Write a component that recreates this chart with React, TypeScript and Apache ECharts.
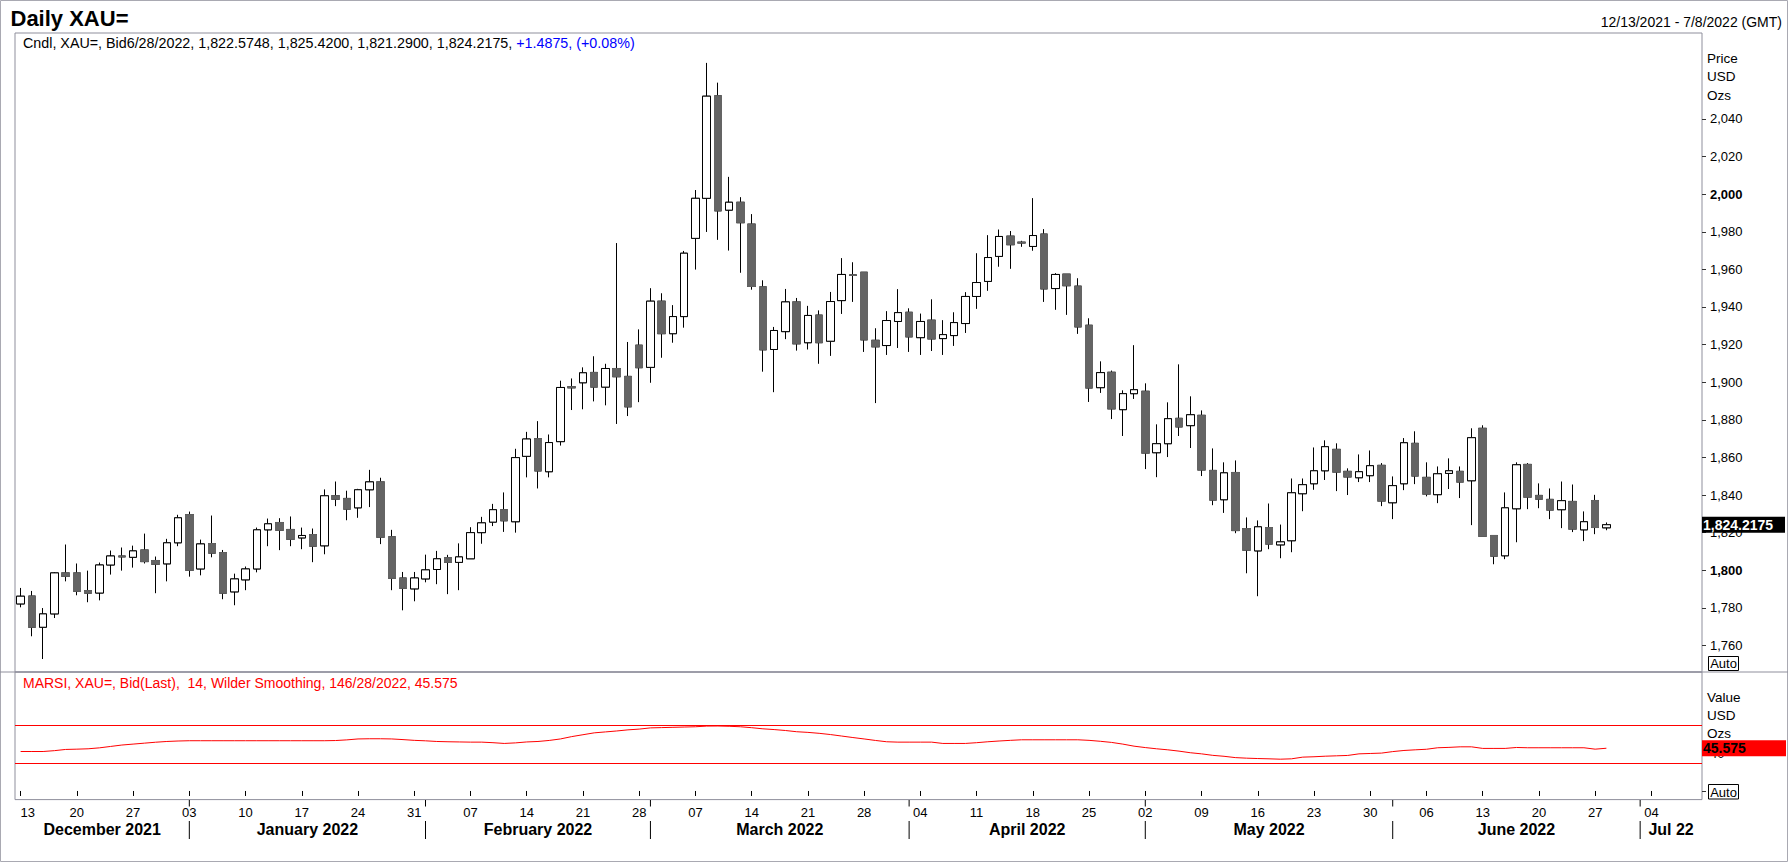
import React, { useEffect, useRef } from "react";
import * as echarts from "echarts";

// ---------- categories (weekdays, Dec 13 2021 .. Jul 8 2022) ----------
const DAYS_DEC_2021 = [13, 14, 15, 16, 17, 20, 21, 22, 23, 24, 27, 28, 29, 30, 31];
const DAYS_JAN_2022 = [3, 4, 5, 6, 7, 10, 11, 12, 13, 14, 17, 18, 19, 20, 21, 24, 25, 26, 27, 28, 31];
const DAYS_FEB_2022 = [1, 2, 3, 4, 7, 8, 9, 10, 11, 14, 15, 16, 17, 18, 21, 22, 23, 24, 25, 28];
const DAYS_MAR_2022 = [1, 2, 3, 4, 7, 8, 9, 10, 11, 14, 15, 16, 17, 18, 21, 22, 23, 24, 25, 28, 29, 30, 31];
const DAYS_APR_2022 = [1, 4, 5, 6, 7, 8, 11, 12, 13, 14, 15, 18, 19, 20, 21, 22, 25, 26, 27, 28, 29];
const DAYS_MAY_2022 = [2, 3, 4, 5, 6, 9, 10, 11, 12, 13, 16, 17, 18, 19, 20, 23, 24, 25, 26, 27, 30, 31];
const DAYS_JUN_2022 = [1, 2, 3, 6, 7, 8, 9, 10, 13, 14, 15, 16, 17, 20, 21, 22, 23, 24, 27, 28, 29, 30];
const DAYS_JUL_2022 = [1, 4, 5, 6, 7, 8];

const MONTH_LABELS = ["December 2021", "January 2022", "February 2022", "March 2022", "April 2022", "May 2022", "June 2022", "Jul 22"];
const MONTH_YEARS = [2021, 2022, 2022, 2022, 2022, 2022, 2022, 2022];
const MONTH_NUMS = [12, 1, 2, 3, 4, 5, 6, 7];
const MONTH_DAYS = [DAYS_DEC_2021, DAYS_JAN_2022, DAYS_FEB_2022, DAYS_MAR_2022, DAYS_APR_2022, DAYS_MAY_2022, DAYS_JUN_2022, DAYS_JUL_2022];

// ---------- daily XAU= bid candles ----------
const OPEN = [
  1782.1, 1786.3, 1769.7, 1776.8, 1798.6, 1798.6, 1789.2, 1787.9, 1802.8, 1807.6,
  1806.9, 1810.8, 1805.2, 1803.4, 1814.6, 1829.6, 1800.7, 1814.2, 1809.4, 1788.5,
  1794.9, 1800.7, 1821.5, 1825.4, 1821.7, 1817.2, 1819.0, 1813.0, 1839.6, 1838.2,
  1833.2, 1842.8, 1847.0, 1817.8, 1795.9, 1790.1, 1795.4, 1800.4, 1806.7, 1804.2,
  1806.1, 1820.0, 1825.6, 1832.2, 1825.8, 1860.6, 1870.0, 1852.4, 1868.4, 1897.6,
  1899.7, 1905.2, 1897.4, 1907.3, 1903.1, 1919.7, 1907.9, 1943.1, 1925.8, 1934.9,
  1976.5, 1997.8, 2052.3, 1991.5, 1995.7, 1984.1, 1950.7, 1917.4, 1926.9, 1942.7,
  1921.0, 1935.7, 1921.8, 1943.4, 1957.1, 1958.5, 1922.3, 1919.5, 1932.3, 1937.2,
  1923.7, 1933.0, 1923.2, 1924.8, 1931.2, 1945.6, 1953.6, 1966.9, 1977.7, 1974.5,
  1972.2, 1978.8, 1949.8, 1957.5, 1951.1, 1930.3, 1897.1, 1905.3, 1885.4, 1893.9,
  1895.2, 1862.5, 1867.3, 1880.8, 1876.9, 1882.4, 1853.1, 1837.5, 1852.0, 1822.2,
  1810.3, 1822.7, 1813.5, 1815.7, 1840.7, 1846.0, 1852.9, 1864.3, 1852.6, 1849.2,
  1850.3, 1855.8, 1835.9, 1846.0, 1867.5, 1849.4, 1840.2, 1851.5, 1852.6, 1847.6,
  1875.5, 1818.5, 1807.7, 1832.7, 1856.3, 1839.8, 1837.7, 1832.2, 1836.6, 1821.5,
  1837.1, 1822.5748,
];
const HIGH = [
  1790.6, 1789.0, 1779.9, 1799.0, 1813.7, 1803.6, 1799.8, 1804.1, 1810.5, 1812.1,
  1813.1, 1819.5, 1807.3, 1816.7, 1829.5, 1831.2, 1816.3, 1829.1, 1810.8, 1798.2,
  1802.0, 1822.7, 1827.5, 1827.7, 1828.6, 1822.7, 1822.2, 1843.0, 1847.2, 1842.3,
  1843.3, 1853.4, 1849.2, 1821.5, 1799.1, 1799.1, 1808.3, 1810.3, 1808.2, 1814.3,
  1822.9, 1828.4, 1835.3, 1841.4, 1864.6, 1873.6, 1879.3, 1872.2, 1900.8, 1902.0,
  1907.9, 1913.8, 1909.8, 1974.0, 1921.4, 1928.1, 1950.0, 1947.3, 1941.0, 1969.8,
  2002.2, 2069.8, 2059.3, 2009.2, 1998.4, 1989.4, 1954.2, 1929.4, 1949.6, 1944.8,
  1940.6, 1938.2, 1948.0, 1966.0, 1963.8, 1958.5, 1928.7, 1937.8, 1949.5, 1939.3,
  1936.5, 1944.1, 1933.0, 1937.2, 1947.9, 1968.6, 1978.2, 1981.2, 1980.4, 1975.2,
  1997.9, 1981.4, 1958.0, 1957.5, 1955.3, 1934.0, 1911.1, 1906.2, 1895.7, 1919.7,
  1899.4, 1877.6, 1889.3, 1909.5, 1892.5, 1885.0, 1864.8, 1857.4, 1858.4, 1828.1,
  1826.5, 1835.5, 1824.3, 1848.8, 1848.8, 1865.3, 1869.1, 1867.5, 1854.2, 1861.6,
  1863.7, 1857.0, 1849.9, 1870.3, 1873.9, 1857.4, 1855.2, 1859.5, 1855.2, 1875.5,
  1877.1, 1818.5, 1841.4, 1857.4, 1857.0, 1846.2, 1843.5, 1847.2, 1845.6, 1831.3,
  1840.1, 1825.42,
];
const LOW = [
  1780.3, 1764.9, 1752.8, 1774.6, 1794.1, 1786.7, 1783.0, 1784.0, 1797.7, 1799.8,
  1801.4, 1803.6, 1787.8, 1794.1, 1812.8, 1796.6, 1797.3, 1806.9, 1784.6, 1781.4,
  1789.4, 1798.9, 1812.8, 1810.7, 1812.8, 1811.2, 1804.3, 1808.5, 1834.1, 1826.6,
  1827.9, 1833.6, 1813.9, 1789.4, 1778.7, 1783.5, 1793.6, 1792.6, 1787.3, 1789.4,
  1806.1, 1814.1, 1823.5, 1820.4, 1820.0, 1849.4, 1843.5, 1849.4, 1866.3, 1885.2,
  1885.6, 1889.8, 1887.7, 1877.8, 1882.0, 1889.4, 1899.7, 1913.0, 1921.0, 1929.0,
  1959.9, 1979.9, 1975.7, 1970.0, 1958.2, 1949.2, 1905.6, 1894.7, 1922.9, 1916.8,
  1917.4, 1909.8, 1914.0, 1936.3, 1942.7, 1916.1, 1888.9, 1914.5, 1918.2, 1916.1,
  1914.5, 1916.6, 1914.5, 1919.3, 1926.2, 1939.0, 1948.6, 1961.4, 1960.3, 1972.0,
  1969.9, 1942.7, 1938.5, 1935.8, 1925.7, 1889.5, 1894.3, 1880.4, 1871.4, 1891.1,
  1853.8, 1849.5, 1860.2, 1871.4, 1865.0, 1850.1, 1834.6, 1830.5, 1819.7, 1798.4,
  1786.2, 1811.2, 1806.4, 1809.6, 1831.4, 1842.8, 1848.0, 1842.1, 1840.0, 1846.9,
  1846.9, 1834.1, 1827.2, 1842.6, 1845.8, 1839.3, 1835.7, 1843.2, 1838.4, 1824.0,
  1818.1, 1803.2, 1805.9, 1814.9, 1832.5, 1833.0, 1827.2, 1822.4, 1820.3, 1815.5,
  1819.2, 1821.29,
];
const CLOSE = [
  1786.2, 1769.7, 1776.8, 1798.6, 1796.8, 1788.8, 1787.8, 1802.8, 1807.6, 1807.1,
  1810.3, 1804.6, 1803.2, 1814.6, 1827.9, 1800.0, 1814.0, 1809.1, 1787.8, 1795.4,
  1800.7, 1821.5, 1824.7, 1821.3, 1816.5, 1818.5, 1812.8, 1839.6, 1837.8, 1832.5,
  1842.8, 1847.0, 1817.6, 1795.7, 1790.4, 1795.9, 1800.2, 1806.1, 1804.2, 1807.1,
  1820.0, 1825.2, 1832.2, 1826.3, 1859.9, 1869.8, 1852.8, 1867.9, 1897.2, 1897.0,
  1905.0, 1897.4, 1907.3, 1902.9, 1886.9, 1907.7, 1943.1, 1925.8, 1934.9, 1968.6,
  1997.8, 2052.1, 1991.1, 1995.7, 1984.8, 1950.9, 1917.2, 1927.5, 1942.7, 1920.4,
  1935.5, 1921.0, 1942.9, 1957.3, 1956.8, 1922.5, 1918.8, 1932.8, 1937.0, 1924.1,
  1932.3, 1923.0, 1925.3, 1931.7, 1945.6, 1953.0, 1966.3, 1977.5, 1973.1, 1974.0,
  1978.0, 1949.6, 1957.3, 1951.3, 1929.4, 1896.9, 1905.1, 1885.8, 1893.9, 1896.0,
  1862.3, 1867.3, 1880.6, 1876.2, 1882.7, 1853.3, 1837.3, 1851.8, 1821.1, 1810.7,
  1823.1, 1813.9, 1815.1, 1841.2, 1845.5, 1852.9, 1865.7, 1852.2, 1849.6, 1852.4,
  1855.6, 1836.8, 1845.0, 1867.8, 1850.1, 1840.5, 1851.3, 1852.9, 1846.9, 1870.5,
  1818.1, 1807.5, 1833.2, 1856.1, 1838.9, 1837.8, 1832.0, 1837.0, 1821.9, 1825.8,
  1822.73, 1824.2175,
];

// ---------- MARSI (14, Wilder smoothing) ----------
const RSI = [
  42.1, 42.1, 42.1, 43.0, 44.3, 44.6, 45.0, 46.0, 47.5, 49.0,
  50.0, 51.0, 52.0, 52.8, 53.3, 53.6, 53.6, 53.6, 53.6, 53.6,
  53.6, 53.6, 53.6, 53.6, 53.6, 53.6, 53.6, 53.6, 53.8, 54.5,
  55.5, 55.7, 55.7, 55.5, 54.8, 54.0, 53.5, 52.8, 52.5, 52.3,
  52.1, 52.1, 51.5, 50.7, 51.3, 52.3, 52.8, 53.9, 55.5, 58.0,
  60.0, 62.0, 63.0, 64.0, 65.2, 66.0, 67.3, 67.6, 67.9, 68.2,
  68.5, 69.2, 69.3, 69.0, 68.5, 67.5, 66.3, 65.5, 64.5, 63.2,
  62.5, 61.5, 60.2, 58.6, 57.0, 55.5, 53.9, 52.5, 52.1, 52.1,
  52.1, 52.1, 50.7, 50.7, 50.7, 51.5, 52.5, 53.3, 54.0, 54.6,
  54.6, 54.6, 54.6, 54.6, 54.6, 54.0, 53.0, 51.8, 50.0, 47.8,
  46.3, 45.0, 43.9, 42.5, 40.8, 39.6, 38.0, 37.0, 35.6, 35.0,
  34.6, 34.3, 33.9, 34.3, 36.1, 36.5, 37.1, 37.5, 37.9, 39.6,
  40.0, 40.4, 42.0, 43.2, 43.9, 44.5, 46.1, 46.5, 47.1, 47.1,
  45.4, 45.4, 45.4, 46.4, 46.1, 46.1, 46.1, 46.1, 46.1, 46.1,
  44.6, 45.575,
];
const RSI_BANDS = [70, 30];
const RSI_TICKS = [0, 40];
const RSI_LABELS = [40];
const PRICE_TICKS = [1760, 1780, 1800, 1820, 1840, 1860, 1880, 1900, 1920, 1940, 1960, 1980, 2000, 2020, 2040];

// ---------- derived ----------
const pad2 = (n: number) => (n < 10 ? "0" + n : "" + n);
const DATES: string[] = [];
const MONDAY: boolean[] = [];
const MONTH_START: number[] = [];
MONTH_DAYS.forEach((days, mi) => {
  MONTH_START.push(DATES.length);
  days.forEach((d) => {
    DATES.push(`${MONTH_YEARS[mi]}-${pad2(MONTH_NUMS[mi])}-${pad2(d)}`);
    MONDAY.push(new Date(Date.UTC(MONTH_YEARS[mi], MONTH_NUMS[mi] - 1, d)).getUTCDay() === 1);
  });
});

const fmt = (v: number, dec: number) => {
  const [i, f] = v.toFixed(dec).split(".");
  return i.replace(/\B(?=(\d{3})+(?!\d))/g, ",") + (f ? "." + f : "");
};

const FONT = 'Arial, "Liberation Sans", sans-serif';
const FRAME = "#8f8f9c";
const GRID_LEFT = 15;
const GRID_RIGHT_X = 1702;
const MAIN_TOP = 33;
const SEP_Y = 672;
const RSI_BOTTOM = 799.6;

function buildOption(): any {
  const candles = OPEN.map((o, i) => [o, CLOSE[i], LOW[i], HIGH[i]]);
  const bodies = OPEN.map((o, i) => [o, CLOSE[i], Math.min(o, CLOSE[i]), Math.max(o, CLOSE[i])]);
  return {
    animation: false,
    backgroundColor: "#ffffff",
    textStyle: { fontFamily: FONT },
    grid: [
      { left: GRID_LEFT, top: MAIN_TOP, width: GRID_RIGHT_X - GRID_LEFT, height: SEP_Y - MAIN_TOP, show: true, borderColor: FRAME, borderWidth: 1, backgroundColor: "transparent" },
      { left: GRID_LEFT, top: SEP_Y, width: GRID_RIGHT_X - GRID_LEFT, height: RSI_BOTTOM - SEP_Y, show: true, borderColor: FRAME, borderWidth: 1, backgroundColor: "transparent" },
    ],
    xAxis: [
      {
        type: "category", gridIndex: 0, data: DATES, boundaryGap: true,
        axisLine: { show: false }, axisTick: { show: false }, axisLabel: { show: false }, splitLine: { show: false },
      },
      {
        type: "category", gridIndex: 1, data: DATES, boundaryGap: true,
        axisLine: { show: false },
        axisTick: { show: true, alignWithLabel: true, interval: (i: number) => MONDAY[i], length: 5, lineStyle: { color: "#000", width: 1 } },
        axisLabel: {
          interval: (i: number) => MONDAY[i],
          formatter: (v: string) => v.slice(8, 10),
          fontSize: 13, color: "#000", fontFamily: FONT, margin: 6, alignMinLabel: "left",
        },
        splitLine: { show: false },
      },
    ],
    yAxis: [
      {
        type: "value", gridIndex: 0, position: "right", min: 1745.9, max: 2085.7,
        splitLine: { show: false }, axisLine: { show: false },
        axisTick: { show: true, length: 4, customValues: PRICE_TICKS, lineStyle: { color: "#333" } },
        axisLabel: {
          customValues: PRICE_TICKS, margin: 8, fontSize: 13, color: "#000", fontFamily: FONT,
          formatter: (v: number) => (v % 200 === 0 ? `{b|${fmt(v, 0)}}` : fmt(v, 0)),
          rich: { b: { fontWeight: "bold", fontSize: 13, fontFamily: FONT, color: "#000" } },
        },
      },
      {
        type: "value", gridIndex: 1, position: "right", min: -9.2, max: 126.9,
        splitLine: { show: false }, axisLine: { show: false },
        axisTick: { show: true, length: 4, customValues: RSI_TICKS, lineStyle: { color: "#333" } },
        axisLabel: { customValues: RSI_LABELS, margin: 8, fontSize: 13, color: "#000", fontFamily: FONT },
      },
    ],
    series: [
      {
        type: "candlestick", name: "XAU=", xAxisIndex: 0, yAxisIndex: 0, data: candles, barWidth: 8, silent: true,
        itemStyle: { color: "#ffffff", color0: "#646464", borderColor: "#000000", borderColor0: "#000000", borderWidth: 1 },
      },
      {
        type: "candlestick", name: "bodies", xAxisIndex: 0, yAxisIndex: 0, data: bodies, barWidth: 8, silent: true,
        itemStyle: { color: "#ffffff", color0: "#646464", borderColor: "#000000", borderColor0: "#646464", borderWidth: 1 },
      },
      {
        type: "line", name: "MARSI", xAxisIndex: 1, yAxisIndex: 1, data: RSI, symbol: "none", showSymbol: false, silent: true,
        lineStyle: { color: "#ff0000", width: 1 },
        markLine: {
          silent: true, symbol: "none", label: { show: false },
          lineStyle: { color: "#ff0000", width: 1, type: "solid" },
          data: RSI_BANDS.map((v) => ({ yAxis: v })),
        },
      },
    ],
  };
}

function txt(x: number, y: number, text: string, size: number, opts: any = {}): any {
  return {
    type: "text", x, y, z: opts.z ?? 10, silent: true,
    style: {
      text, fontSize: size, fontFamily: FONT, fontWeight: opts.bold ? "bold" : "normal",
      fill: opts.fill ?? "#000", align: opts.align ?? "left", verticalAlign: "middle", rich: opts.rich,
    },
  };
}

function buildGraphics(chart: any): any[] {
  const gx = (i: number) => chart.convertToPixel({ xAxisIndex: 1 }, DATES[i]) as number;
  const gyP = (v: number) => chart.convertToPixel({ yAxisIndex: 0 }, v) as number;
  const gyR = (v: number) => chart.convertToPixel({ yAxisIndex: 1 }, v) as number;
  const n = CLOSE.length - 1;
  const lastDate = DATES[n];
  const lastDateStr = `${+lastDate.slice(5, 7)}/${+lastDate.slice(8, 10)}/${lastDate.slice(0, 4)}`;
  const chg = CLOSE[n] - CLOSE[n - 1];
  const pct = (chg / CLOSE[n - 1]) * 100;
  const head = `Cndl, XAU=, Bid${lastDateStr}, ${fmt(OPEN[n], 4)}, ${fmt(HIGH[n], 4)}, ${fmt(LOW[n], 4)}, ${fmt(CLOSE[n], 4)}, `;
  const headChg = `{b|${chg >= 0 ? "+" : ""}${fmt(chg, 4)}, (${pct >= 0 ? "+" : ""}${pct.toFixed(2)}%)}`;
  const rsiLast = RSI[RSI.length - 1];
  const rsiText = `MARSI, XAU=, Bid(Last),  14, Wilder Smoothing, 14${lastDateStr}, ${rsiLast.toFixed(3)}`;

  const els: any[] = [];
  // outer frame and full-width panel separator
  els.push({ type: "rect", silent: true, z: 1, shape: { x: 0.5, y: 0.5, width: 1787, height: 861 }, style: { fill: "none", stroke: "#a9a9b2", lineWidth: 1 } });
  els.push({ type: "line", silent: true, z: 1, shape: { x1: 0, y1: SEP_Y, x2: 1788, y2: SEP_Y }, style: { stroke: FRAME, lineWidth: 1 } });

  // titles
  els.push(txt(10.5, 18, "Daily XAU=", 22, { bold: true }));
  els.push(txt(1782, 21.5, "12/13/2021 - 7/8/2022 (GMT)", 14, { align: "right" }));
  els.push(txt(23, 42.5, head + headChg, 14.3, { rich: { b: { fill: "#0000ff", fontSize: 14.3, fontFamily: FONT } } }));
  els.push(txt(23, 682.5, rsiText, 14, { fill: "#ff0000" }));

  // axis captions
  ["Price", "USD", "Ozs"].forEach((s, k) => els.push(txt(1707, 58.3 + k * 18.4, s, 13.5)));
  ["Value", "USD", "Ozs"].forEach((s, k) => els.push(txt(1707, 697 + k * 18.3, s, 13.5)));

  // last price box
  const yp = gyP(CLOSE[n]);
  els.push({ type: "rect", silent: true, z: 20, shape: { x: 1702, y: yp - 8, width: 83, height: 16 }, style: { fill: "#000000" } });
  els.push(txt(1703, yp, fmt(CLOSE[n], 4), 14, { bold: true, fill: "#ffffff", z: 21 }));

  // last RSI box
  const yr = gyR(rsiLast);
  els.push({ type: "rect", silent: true, z: 20, shape: { x: 1702, y: yr - 8, width: 84, height: 16 }, style: { fill: "#ff0000" } });
  els.push(txt(1703, yr, rsiLast.toFixed(3), 14, { bold: true, fill: "#000000", z: 21 }));

  // Auto boxes
  els.push({ type: "rect", silent: true, z: 10, shape: { x: 1708.5, y: 656.5, width: 30, height: 14 }, style: { fill: "#ffffff", stroke: "#000", lineWidth: 1 } });
  els.push(txt(1723.5, 663.8, "Auto", 13, { align: "center", z: 11 }));
  els.push({ type: "rect", silent: true, z: 10, shape: { x: 1708.5, y: 784.5, width: 30, height: 14.5 }, style: { fill: "#ffffff", stroke: "#000", lineWidth: 1 } });
  els.push(txt(1723.5, 792, "Auto", 13, { align: "center", z: 11 }));

  // month separators, month ticks and month labels
  MONTH_START.forEach((s, mi) => {
    const x = gx(s);
    if (mi > 0) {
      els.push({ type: "line", silent: true, z: 5, shape: { x1: x, y1: 821, x2: x, y2: 839 }, style: { stroke: "#000", lineWidth: 1 } });
      els.push({ type: "line", silent: true, z: 5, shape: { x1: x, y1: 800, x2: x, y2: 806.5 }, style: { stroke: "#000", lineWidth: 1 } });
    }
    const left = mi === 0 ? GRID_LEFT : x;
    const right = mi < MONTH_START.length - 1 ? gx(MONTH_START[mi + 1]) : GRID_RIGHT_X;
    els.push(txt((left + right) / 2, 829.5, MONTH_LABELS[mi], 16, { bold: true, align: "center" }));
  });
  return els;
}

export default function App() {
  const ref = useRef<HTMLDivElement>(null);
  useEffect(() => {
    if (!ref.current) return;
    const chart = echarts.init(ref.current, null, { renderer: "svg" });
    chart.setOption(buildOption());
    chart.setOption({ graphic: { elements: buildGraphics(chart) } });
    return () => chart.dispose();
  }, []);
  return (
    <div
      ref={ref}
      style={{ position: "absolute", left: 0, top: 0, width: 1788, height: 862, background: "#ffffff" }}
    />
  );
}
